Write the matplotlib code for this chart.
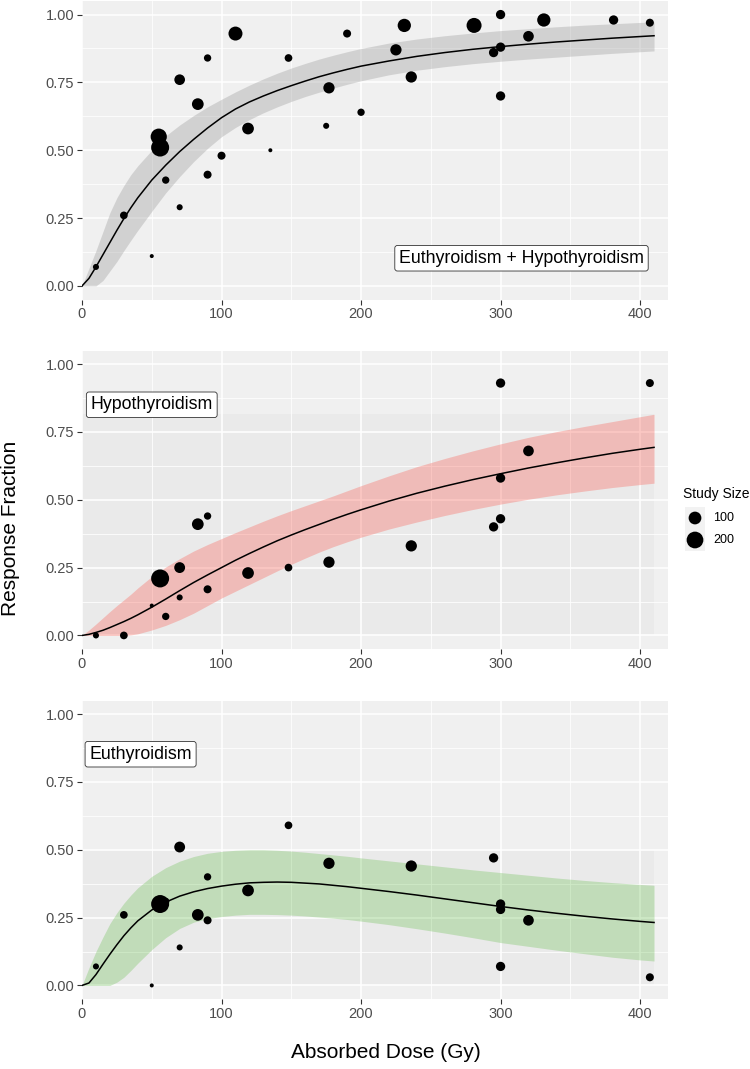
import numpy as np
import matplotlib
matplotlib.use('Agg')
import matplotlib.pyplot as plt
from matplotlib.patches import Rectangle

plt.rcParams['font.family'] = ['Liberation Sans', 'DejaVu Sans']

dose = [0, 5, 10, 15, 20, 25, 30, 35, 40,
        50, 60, 70, 80, 90, 100, 110, 120, 130, 140, 150, 160, 170, 180, 190, 200,
        220, 240, 260, 280, 300, 320, 340, 360, 380, 400, 410]

## Euthyroidism + Hypothyroidism
fit_all = [0, 0.028, 0.07, 0.115, 0.16, 0.205, 0.248, 0.288, 0.325,
           0.39, 0.445, 0.495, 0.54, 0.582, 0.62, 0.652, 0.678, 0.70, 0.72, 0.738, 0.755, 0.771, 0.785, 0.798, 0.81,
           0.829, 0.846, 0.86, 0.872, 0.882, 0.891, 0.899, 0.906, 0.913, 0.919, 0.922]
lo_all = [0, 0, 0, 0.02, 0.055, 0.09, 0.13, 0.168, 0.205,
          0.275, 0.343, 0.403, 0.458, 0.507, 0.55, 0.584, 0.613, 0.638, 0.66, 0.68, 0.698, 0.714, 0.729, 0.743, 0.756,
          0.778, 0.795, 0.808, 0.819, 0.828, 0.836, 0.843, 0.85, 0.857, 0.863, 0.866]
hi_all = [0, 0.065, 0.13, 0.2, 0.27, 0.325, 0.37, 0.41, 0.443,
          0.50, 0.553, 0.593, 0.628, 0.66, 0.688, 0.715, 0.74, 0.763, 0.784, 0.803, 0.82, 0.836, 0.85, 0.863, 0.875,
          0.895, 0.91, 0.922, 0.932, 0.941, 0.948, 0.955, 0.961, 0.966, 0.971, 0.973]

## Hypothyroidism
fit_hypo = [0, 0.004, 0.011, 0.019, 0.029, 0.04, 0.051, 0.063, 0.076,
            0.104, 0.134, 0.165, 0.195, 0.223, 0.25, 0.277, 0.302, 0.326, 0.349, 0.37, 0.39, 0.409, 0.428, 0.446, 0.463,
            0.495, 0.524, 0.55, 0.574, 0.596, 0.617, 0.636, 0.654, 0.671, 0.686, 0.693]
lo_hypo = [0, 0, 0, 0, 0, 0, 0, 0.002, 0.006,
           0.02, 0.037, 0.058, 0.082, 0.11, 0.138, 0.163, 0.188, 0.213, 0.238, 0.262, 0.285, 0.307, 0.327, 0.345, 0.362,
           0.392, 0.418, 0.442, 0.464, 0.484, 0.502, 0.518, 0.532, 0.545, 0.556, 0.561]
hi_hypo = [0, 0.02, 0.042, 0.065, 0.088, 0.11, 0.131, 0.152, 0.175,
           0.217, 0.252, 0.283, 0.311, 0.335, 0.357, 0.379, 0.40, 0.421, 0.441, 0.46, 0.478, 0.496, 0.514, 0.533, 0.552,
           0.588, 0.622, 0.652, 0.68, 0.706, 0.73, 0.751, 0.77, 0.788, 0.806, 0.815]

## Euthyroidism
fit_eu = [0, 0.009, 0.04, 0.078, 0.115, 0.15, 0.183, 0.212, 0.238,
          0.278, 0.307, 0.329, 0.345, 0.357, 0.366, 0.373, 0.378, 0.38, 0.381, 0.38, 0.377, 0.374, 0.369, 0.364, 0.358,
          0.346, 0.333, 0.319, 0.305, 0.291, 0.278, 0.266, 0.255, 0.245, 0.236, 0.232]
lo_eu = [0, 0, 0, 0, 0, 0.012, 0.03, 0.055, 0.082,
         0.132, 0.176, 0.21, 0.233, 0.246, 0.254, 0.259, 0.262, 0.262, 0.261, 0.259, 0.256, 0.252, 0.248, 0.243, 0.237,
         0.224, 0.209, 0.193, 0.176, 0.158, 0.144, 0.13, 0.117, 0.104, 0.094, 0.09]
hi_eu = [0, 0.065, 0.125, 0.178, 0.228, 0.268, 0.303, 0.333, 0.36,
         0.402, 0.434, 0.458, 0.475, 0.487, 0.494, 0.498, 0.50, 0.50, 0.498, 0.495, 0.491, 0.486, 0.481, 0.476, 0.47,
         0.459, 0.448, 0.437, 0.426, 0.416, 0.406, 0.396, 0.387, 0.379, 0.372, 0.369]

## study points, combined endpoint
dose_all = [10, 30, 50, 55, 56, 60, 70, 70, 83, 90, 90, 100, 110, 119, 135, 148, 175, 177, 190, 200,
            225, 231, 236, 281, 295, 300, 300, 300, 320, 331, 381, 407]
resp_all = [0.07, 0.26, 0.11, 0.55, 0.51, 0.39, 0.29, 0.76, 0.67, 0.84, 0.41, 0.48, 0.93, 0.58, 0.50,
            0.84, 0.59, 0.73, 0.93, 0.64, 0.87, 0.96, 0.77, 0.96, 0.86, 1.00, 0.88, 0.70, 0.92, 0.98,
            0.98, 0.97]
size_all = [15, 26, 10, 185, 240, 23, 15, 62, 80, 23, 29, 29, 127, 80, 10, 26, 15, 72, 29, 23,
            72, 111, 72, 152, 43, 43, 43, 43, 62, 111, 43, 29]

## study points, split endpoints (same studies in both)
dose_split = [10, 30, 50, 56, 60, 70, 70, 83, 90, 90, 119, 148, 177, 236, 295, 300, 300, 300, 320, 407]
size_split = [15, 26, 10, 240, 23, 15, 65, 80, 23, 29, 80, 26, 72, 72, 43, 43, 43, 43, 62, 29]
resp_hypo = [0.00, 0.00, 0.11, 0.21, 0.07, 0.14, 0.25, 0.41, 0.44, 0.17, 0.23, 0.25, 0.27, 0.33,
             0.40, 0.43, 0.58, 0.93, 0.68, 0.93]
resp_eu = [0.07, 0.26, 0.00, 0.30, 0.31, 0.14, 0.51, 0.26, 0.40, 0.24, 0.35, 0.59, 0.45, 0.44,
           0.47, 0.28, 0.30, 0.07, 0.24, 0.03]

legend_sizes = [100, 200]

n_min, n_max = 10, 240


def marker_area(n):
    ##ggplot style area scale: diameter in px grows with sqrt of study size
    d = 4 + 14 * np.sqrt((np.array(n, dtype=float) - n_min) / (n_max - n_min))
    return (d * 0.72) ** 2


panels = [
    dict(fit=fit_all, lo=lo_all, hi=hi_all, x=dose_all, y=resp_all, n=size_all,
         band=(0.6, 0.6, 0.6, 0.35), shade=False,
         label='Euthyroidism + Hypothyroidism', lab_xy=(315, 0.102)),
    dict(fit=fit_hypo, lo=lo_hypo, hi=hi_hypo, x=dose_split, y=resp_hypo, n=size_split,
         band=(0.973, 0.463, 0.427, 0.4), shade=True,
         label='Hypothyroidism', lab_xy=(50, 0.85)),
    dict(fit=fit_eu, lo=lo_eu, hi=hi_eu, x=dose_split, y=resp_eu, n=size_split,
         band=(0.42, 0.75, 0.33, 0.32), shade=True,
         label='Euthyroidism', lab_xy=(42, 0.852)),
]

W, H = 750, 1069
fig = plt.figure(figsize=(W / 100, H / 100), dpi=100)

left, right = 82, 668
tops = [1, 350.5, 700.5]
ph = 298.5

for p, top in zip(panels, tops):
    ax = fig.add_axes([left / W, 1 - (top + ph) / H, (right - left) / W, ph / H])
    ax.set_facecolor('#F0F0F0')
    for s in ax.spines.values():
        s.set_visible(False)
    ax.set_xlim(0, 420)
    ax.set_ylim(-0.05, 1.05)
    ax.set_xticks([0, 100, 200, 300, 400])
    ax.set_xticks([50, 150, 250, 350], minor=True)
    ax.set_yticks([0, 0.25, 0.5, 0.75, 1.0])
    ax.set_yticklabels(['0.00', '0.25', '0.50', '0.75', '1.00'])
    ax.set_yticks([0.125, 0.375, 0.625, 0.875], minor=True)
    ax.set_axisbelow(True)
    ax.grid(which='major', color='white', lw=1.1)
    ax.grid(which='minor', color='white', lw=0.55)
    ax.tick_params(which='major', length=3.5, width=0.8, color='#333333',
                   labelsize=10.5, labelcolor='#4D4D4D', pad=2)
    ax.tick_params(which='minor', length=0)

    if p['shade']:
        ##slightly darker box behind the band extent
        ax.add_patch(Rectangle((dose[0], 0), dose[-1] - dose[0], max(p['hi']),
                               facecolor='#EAEAEA', edgecolor='none', zorder=0.2))

    ax.fill_between(dose, p['lo'], p['hi'], color=p['band'], lw=0, zorder=1)
    ax.scatter(p['x'], p['y'], s=marker_area(p['n']), color='black', lw=0, zorder=3)
    ax.plot(dose, p['fit'], color='black', lw=1.1, zorder=4, solid_joinstyle='round')

    ax.text(p['lab_xy'][0], p['lab_xy'][1], p['label'], fontsize=12.8, ha='center', va='center',
            zorder=5, bbox=dict(boxstyle='round,pad=0.24,rounding_size=0.15', fc='white',
                                ec='#333333', lw=0.6))

##legend for study size
key_top, key_bot = 507, 551
lax = fig.add_axes([685 / W, 1 - key_bot / H, 20 / W, (key_bot - key_top) / H])
lax.set_facecolor('#F2F2F2')
lax.set_xlim(0, 1)
lax.set_ylim(key_bot, key_top)
lax.set_xticks([])
lax.set_yticks([])
for s in lax.spines.values():
    s.set_visible(False)
key_y = [518, 540]
lax.scatter([0.5] * len(legend_sizes), key_y, s=marker_area(legend_sizes), color='black', lw=0,
            clip_on=False)
for v, ky in zip(legend_sizes, key_y):
    fig.text(713 / W, 1 - ky / H, str(v), fontsize=9, ha='left', va='center')
fig.text(683 / W, 1 - 494 / H, 'Study Size', fontsize=10, ha='left', va='center')

fig.text(11 / W, 1 - 528 / H, 'Response Fraction', fontsize=15, rotation=90, ha='center', va='center')
fig.text(386 / W, 1 - 1058 / H, 'Absorbed Dose (Gy)', fontsize=15, ha='center', va='baseline')

fig.savefig('out.png', dpi=100)
